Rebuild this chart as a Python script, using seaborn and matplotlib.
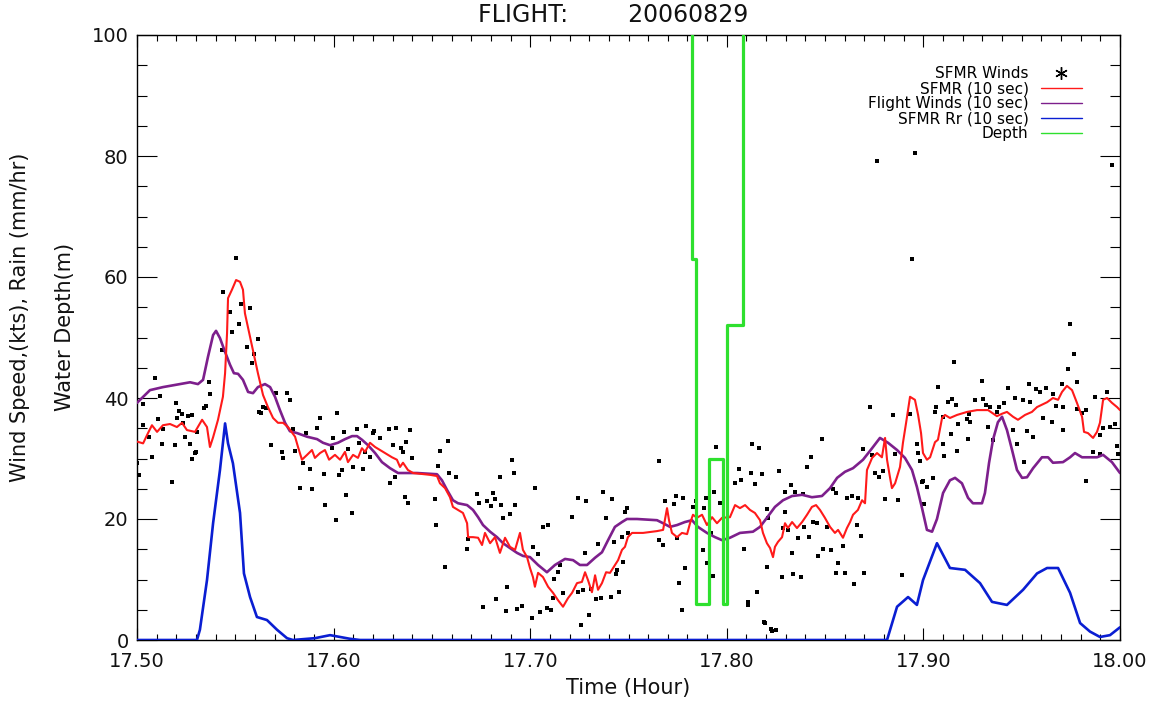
import matplotlib
matplotlib.use("Agg")
import matplotlib.pyplot as plt
import seaborn as sns
from matplotlib.lines import Line2D
from matplotlib.ticker import MultipleLocator, FormatStrFormatter

# ---------------- data ----------------
sfmr_t = [17.5000, 17.5031, 17.5056, 17.5076, 17.5102, 17.5132, 17.5168, 17.5203, 17.5229, 17.5254,
          17.5295, 17.5331, 17.5356, 17.5371, 17.5387, 17.5412, 17.5437, 17.5448, 17.5458, 17.5463,
          17.5483, 17.5504, 17.5524, 17.5539, 17.5549, 17.5565, 17.5590, 17.5615, 17.5641, 17.5666,
          17.5692, 17.5717, 17.5743, 17.5768, 17.5804, 17.5819, 17.5839, 17.5865, 17.5890, 17.5905,
          17.5931, 17.5956, 17.5977, 17.6007, 17.6033, 17.6058, 17.6073, 17.6099, 17.6124, 17.6144,
          17.6160, 17.6185, 17.6211, 17.6236, 17.6261, 17.6297, 17.6322, 17.6338, 17.6353, 17.6378,
          17.6404, 17.6490, 17.6526, 17.6541, 17.6567, 17.6592, 17.6607, 17.6633, 17.6658, 17.6679,
          17.6684, 17.6709, 17.6735, 17.6755, 17.6770, 17.6796, 17.6821, 17.6846, 17.6872, 17.6897,
          17.6923, 17.6948, 17.6963, 17.6984, 17.6999, 17.7014, 17.7024, 17.7040, 17.7065, 17.7091,
          17.7116, 17.7141, 17.7167, 17.7192, 17.7213, 17.7238, 17.7263, 17.7279, 17.7294, 17.7314,
          17.7330, 17.7345, 17.7365, 17.7386, 17.7406, 17.7431, 17.7447, 17.7467, 17.7482, 17.7497,
          17.7518, 17.7574, 17.7645, 17.7676, 17.7696, 17.7706, 17.7721, 17.7747, 17.7772, 17.7798,
          17.7813, 17.7828, 17.7848, 17.7874, 17.7899, 17.7925, 17.7950, 17.7976, 17.8016, 17.8042,
          17.8067, 17.8093, 17.8118, 17.8143, 17.8169, 17.8184, 17.8204, 17.8220, 17.8235, 17.8245,
          17.8260, 17.8281, 17.8296, 17.8311, 17.8332, 17.8357, 17.8383, 17.8408, 17.8433, 17.8454,
          17.8474, 17.8499, 17.8525, 17.8550, 17.8566, 17.8591, 17.8611, 17.8627, 17.8642, 17.8667,
          17.8688, 17.8703, 17.8713, 17.8739, 17.8764, 17.8789, 17.8805, 17.8815, 17.8830, 17.8840,
          17.8856, 17.8881, 17.8896, 17.8912, 17.8932, 17.8957, 17.8973, 17.8988, 17.8998, 17.9018,
          17.9034, 17.9059, 17.9074, 17.9095, 17.9110, 17.9135, 17.9171, 17.9222, 17.9273, 17.9329,
          17.9374, 17.9400, 17.9425, 17.9456, 17.9481, 17.9517, 17.9552, 17.9578, 17.9629, 17.9659,
          17.9685, 17.9705, 17.9730, 17.9756, 17.9781, 17.9807, 17.9817, 17.9837, 17.9863, 17.9883,
          17.9898, 17.9914, 17.9934, 17.9959, 17.9985, 18.0000]
sfmr_v = [32.8, 32.5, 34.2, 35.5, 34.4, 35.5, 35.7, 35.2, 35.9, 34.7,
          34.4, 36.4, 35.2, 31.9, 33.5, 36.4, 40.2, 44.1, 50.7, 56.5,
          57.9, 59.5, 59.2, 57.9, 54.0, 51.6, 47.9, 44.1, 40.5, 38.5,
          36.7, 35.9, 35.9, 35.2, 33.6, 31.9, 29.8, 30.6, 31.4, 30.1,
          30.9, 31.4, 29.8, 30.6, 29.8, 31.1, 29.4, 30.6, 30.1, 31.7,
          31.1, 32.6, 31.9, 31.4, 30.9, 30.2, 29.8, 28.6, 29.3, 28.1,
          27.6, 27.3, 27.1, 25.9, 25.1, 23.6, 22.0, 21.5, 21.0, 19.3,
          17.0, 17.0, 16.9, 15.7, 17.7, 16.0, 17.0, 14.4, 16.9, 15.4,
          14.9, 17.7, 14.9, 13.7, 11.9, 10.4, 8.8, 11.1, 10.4, 8.8,
          7.8, 6.6, 5.5, 6.9, 7.8, 9.4, 9.6, 11.2, 9.9, 7.9,
          10.7, 8.3, 9.4, 11.2, 11.1, 12.4, 13.2, 14.9, 15.4, 17.0,
          17.7, 17.7, 18.0, 18.2, 21.8, 19.8, 17.7, 17.0, 17.7, 17.5,
          19.3, 20.7, 20.2, 20.7, 19.0, 20.3, 19.3, 20.2, 20.3, 22.3,
          21.8, 22.3, 21.5, 21.0, 19.8, 17.7, 16.0, 15.2, 13.7, 15.4,
          16.2, 17.0, 19.3, 18.5, 19.5, 18.5, 19.5, 20.7, 22.0, 22.3,
          21.5, 20.2, 18.7, 17.7, 18.2, 16.9, 18.5, 19.5, 20.7, 21.5,
          23.1, 22.6, 28.1, 30.1, 30.9, 30.2, 33.4, 29.8, 26.9, 25.1,
          25.9, 28.6, 32.6, 35.9, 40.2, 39.7, 37.2, 34.2, 30.9, 29.8,
          30.2, 32.7, 33.1, 36.7, 37.2, 36.7, 37.2, 37.7, 38.0, 38.0,
          37.0, 37.4, 37.7, 36.9, 36.4, 37.2, 37.7, 38.5, 39.3, 40.0,
          39.7, 41.0, 42.0, 41.3, 39.2, 36.9, 34.4, 34.2, 33.4, 34.4,
          35.9, 39.7, 40.0, 39.2, 38.5, 38.0]

flight_t = [17.5000, 17.5066, 17.5132, 17.5219, 17.5270, 17.5310, 17.5336, 17.5361, 17.5387, 17.5402,
            17.5422, 17.5448, 17.5473, 17.5493, 17.5514, 17.5539, 17.5565, 17.5590, 17.5615, 17.5651,
            17.5677, 17.5702, 17.5727, 17.5753, 17.5778, 17.5814, 17.5865, 17.5916, 17.5946, 17.5982,
            17.6022, 17.6058, 17.6094, 17.6119, 17.6144, 17.6175, 17.6211, 17.6246, 17.6287, 17.6328,
            17.6424, 17.6526, 17.6551, 17.6577, 17.6607, 17.6633, 17.6679, 17.6709, 17.6735, 17.6760,
            17.6796, 17.6831, 17.6862, 17.6897, 17.6933, 17.6963, 17.6999, 17.7040, 17.7085, 17.7126,
            17.7177, 17.7218, 17.7253, 17.7289, 17.7330, 17.7365, 17.7396, 17.7431, 17.7467, 17.7492,
            17.7543, 17.7645, 17.7676, 17.7711, 17.7747, 17.7787, 17.7823, 17.7853, 17.7899, 17.7940,
            17.7976, 17.8016, 17.8067, 17.8133, 17.8169, 17.8204, 17.8245, 17.8286, 17.8332, 17.8383,
            17.8433, 17.8484, 17.8525, 17.8561, 17.8601, 17.8642, 17.8693, 17.8739, 17.8779, 17.8820,
            17.8866, 17.8906, 17.8942, 17.8967, 17.8993, 17.9018, 17.9044, 17.9069, 17.9100, 17.9135,
            17.9161, 17.9196, 17.9227, 17.9252, 17.9298, 17.9313, 17.9334, 17.9354, 17.9379, 17.9400,
            17.9425, 17.9451, 17.9476, 17.9502, 17.9527, 17.9558, 17.9603, 17.9634, 17.9659, 17.9710,
            17.9746, 17.9771, 17.9807, 17.9883, 17.9914, 17.9959, 18.0000]
flight_v = [39.2, 41.3, 41.8, 42.3, 42.6, 42.3, 43.0, 46.8, 50.4, 51.1,
            49.9, 47.6, 45.5, 44.1, 44.0, 43.0, 41.0, 40.8, 41.8, 42.3,
            41.8, 40.2, 38.0, 35.9, 34.5, 34.2, 33.6, 33.2, 32.6, 32.2,
            32.6, 33.2, 33.7, 33.7, 33.1, 32.2, 30.9, 29.4, 28.4, 27.6,
            27.6, 27.4, 26.4, 24.8, 23.1, 22.6, 22.3, 21.5, 20.3, 19.0,
            17.9, 17.0, 16.0, 15.2, 14.4, 13.9, 13.7, 12.4, 11.2, 12.4,
            13.4, 13.2, 12.4, 12.4, 13.6, 14.5, 16.5, 18.7, 19.5, 20.0,
            20.0, 19.8, 19.3, 18.7, 19.0, 19.5, 19.8, 18.7, 17.7, 17.0,
            16.5, 16.9, 17.7, 17.9, 18.7, 20.2, 22.0, 23.1, 23.8, 24.0,
            23.6, 23.8, 25.1, 26.8, 27.8, 28.4, 29.8, 31.7, 33.4, 32.6,
            31.4, 30.1, 28.1, 25.3, 21.8, 18.2, 17.9, 20.0, 24.3, 26.4,
            26.8, 25.9, 23.5, 22.6, 22.6, 24.3, 29.3, 33.1, 36.0, 36.9,
            34.7, 31.4, 28.1, 26.8, 26.9, 28.4, 30.2, 30.2, 29.3, 29.4,
            30.2, 30.9, 30.2, 30.2, 30.6, 29.4, 27.6]

rain_t = [17.5000, 17.5305, 17.5320, 17.5356, 17.5387, 17.5422, 17.5448, 17.5463, 17.5488, 17.5524,
          17.5544, 17.5575, 17.5610, 17.5661, 17.5712, 17.5763, 17.5793, 17.5905, 17.5982, 17.6033,
          17.6083, 17.6134, 17.8815, 17.8866, 17.8922, 17.8967, 17.8998, 17.9069, 17.9135, 17.9212,
          17.9288, 17.9349, 17.9425, 17.9507, 17.9578, 17.9629, 17.9685, 17.9746, 17.9797, 17.9847,
          17.9898, 17.9949, 18.0000]
rain_v = [0.0, 0.0, 1.7, 9.9, 19.3, 28.1, 35.8, 32.5, 29.2, 21.0,
          11.0, 7.1, 3.8, 3.3, 1.7, 0.3, 0.0, 0.3, 0.8, 0.5,
          0.2, 0.0, 0.0, 5.5, 7.1, 5.8, 9.9, 16.0, 11.9, 11.6,
          9.4, 6.3, 5.8, 8.3, 11.0, 11.9, 11.9, 7.8, 2.8, 1.4,
          0.5, 0.8, 2.1]

# water depth (m); values above 100 are off scale
depth_t = [17.5000, 17.7821, 17.7843, 17.7909, 17.7979, 17.8001, 17.8082, 18.0000]
depth_v = [200.0, 63.0, 6.0, 30.0, 6.0, 52.0, 200.0, 200.0]

winds_t = [17.8764, 17.8957, 17.8940, 17.9960, 17.9746,
           17.9766, 17.9156, 17.9736, 17.9298, 17.9074, 17.9537, 17.9430, 17.9573, 17.9624, 17.9705,
           17.9781, 17.9593, 17.9660, 17.9934, 17.9873, 17.9146, 17.9125, 17.9166, 17.9262, 17.9303,
           17.9466, 17.9507, 17.9318, 17.9339, 17.9385, 17.9410, 17.9542, 17.9064, 17.9059, 17.9100,
           17.9232, 17.9374, 17.9608, 17.9675, 17.9710, 17.9781, 17.9827, 17.9176, 17.9222, 17.9237,
           17.9456, 17.9527, 17.9329, 17.9654, 17.9710, 17.9807, 17.9913, 17.9949, 17.9975, 17.9898,
           17.9140, 17.9227, 17.9558, 17.9354, 17.9100, 17.9476, 17.9171, 17.9105, 17.9863, 17.9898,
           17.9985, 17.9990, 17.9512, 17.9049, 17.9827,
           17.8728, 17.8845, 17.8932, 17.8128, 17.8164, 17.8484, 17.8693, 17.8967, 17.8973, 17.8739,
           17.8856, 17.8428, 17.8983, 17.8062, 17.8266, 17.8408, 17.8123, 17.8179, 17.8754, 17.8794,
           17.8774, 17.8072, 17.8042, 17.8143, 17.8327, 17.8998, 17.8296, 17.8347, 17.8388, 17.8540,
           17.8556, 17.8805, 17.8871, 17.8611, 17.8637, 17.8667, 17.8204, 17.8296, 17.8210, 17.8286,
           17.8438, 17.8459, 17.8510, 17.8393, 17.8662, 17.8683, 17.8311, 17.8362, 17.8418, 17.8591,
           17.8088, 17.8332, 17.8464, 17.8489, 17.8530, 17.8566, 17.8204, 17.8556, 17.8601, 17.8698,
           17.8891, 17.8281, 17.8337, 17.8377, 17.8647, 17.8154, 17.8108, 17.8189, 17.8225, 17.8250,
           17.8993, 17.9018, 17.9003, 17.8108, 17.8194, 17.8230,
           17.7945, 17.7655, 17.7024, 17.7370, 17.7742, 17.7777, 17.7243, 17.7284, 17.7416, 17.7935,
           17.7894, 17.7686, 17.7731, 17.7843, 17.7965, 17.7492, 17.7482, 17.7213, 17.7386, 17.7828,
           17.7884, 17.7065, 17.7091, 17.7920, 17.7497, 17.7655, 17.7676, 17.7747, 17.7467, 17.7014,
           17.7345, 17.7426, 17.7279, 17.7040, 17.7879, 17.7472, 17.7899, 17.7152, 17.7141, 17.7441,
           17.7787, 17.7930, 17.7121, 17.7436, 17.7757, 17.7243, 17.7269, 17.7309, 17.7167, 17.7452,
           17.7411, 17.7335, 17.7360, 17.7116, 17.7085, 17.7106, 17.7050, 17.7009, 17.7299, 17.7772,
           17.7258,
           17.6017, 17.6053, 17.6119, 17.6165, 17.6200, 17.6206, 17.5997, 17.6282, 17.6317, 17.6389,
           17.6129, 17.6236, 17.6302, 17.6368, 17.6582, 17.6343, 17.6353, 17.6541, 17.5992, 17.6073,
           17.6160, 17.6185, 17.6399, 17.6907, 17.6099, 17.6150, 17.6043, 17.6531, 17.6027, 17.6312,
           17.6587, 17.6623, 17.6918, 17.6846, 17.6287, 17.6063, 17.6363, 17.6378, 17.6516, 17.6729,
           17.6740, 17.6780, 17.6811, 17.6821, 17.6801, 17.6852, 17.6923, 17.6094, 17.6862, 17.6897,
           17.6012, 17.6521, 17.6684, 17.6679, 17.6567, 17.6882, 17.6826, 17.6760, 17.6877, 17.6933,
           17.6958,
           17.5504, 17.5437, 17.5529, 17.5575, 17.5473, 17.5519, 17.5483, 17.5615, 17.5432, 17.5560,
           17.5585, 17.5595, 17.5092, 17.5366, 17.5371, 17.5117, 17.5030, 17.5198, 17.5351, 17.5214,
           17.5229, 17.5259, 17.5280, 17.5341, 17.5203, 17.5234, 17.5107, 17.5030, 17.5132, 17.5305,
           17.5244, 17.5061, 17.5127, 17.5193, 17.5270, 17.5295, 17.5300, 17.5076, 17.5280, 17.5010,
           17.5178, 17.5621, 17.5641, 17.5656, 17.5707, 17.5763, 17.5778, 17.5631, 17.5682, 17.5738,
           17.5743, 17.5804, 17.5793, 17.5860, 17.5931, 17.5916, 17.5844, 17.5880, 17.5951, 17.5829,
           17.5890, 17.5956, 17.5000]
winds_v = [79.2, 80.5, 63.0, 78.5, 52.2,
           47.3, 45.9, 44.8, 42.8, 41.8, 42.3, 41.7, 41.5, 41.7, 42.3,
           42.6, 41.0, 40.7, 41.0, 40.2, 39.8, 39.3, 38.8, 39.7, 39.8,
           40.0, 39.7, 38.8, 38.5, 38.5, 39.2, 39.3, 38.5, 37.7, 36.9,
           37.4, 37.7, 36.7, 38.7, 38.5, 38.2, 38.0, 35.7, 36.5, 36.0,
           34.7, 34.5, 35.2, 36.0, 34.7, 37.5, 35.0, 35.2, 35.7, 33.9,
           34.0, 33.2, 33.6, 33.1, 32.4, 32.4, 31.2, 30.4, 31.1, 30.7,
           32.1, 30.7, 29.4, 26.8, 26.3,
           38.5, 37.2, 37.4, 32.4, 31.7, 33.2, 31.6, 32.4, 30.9, 30.6,
           30.7, 30.2, 29.6, 28.3, 27.9, 28.6, 27.6, 27.4, 27.6, 27.9,
           26.9, 26.4, 25.9, 25.8, 25.6, 26.3, 24.5, 24.5, 24.1, 25.0,
           24.3, 23.3, 23.1, 23.5, 23.8, 23.5, 21.7, 21.2, 20.2, 18.5,
           19.5, 19.3, 18.7, 18.7, 19.0, 17.2, 18.2, 16.9, 17.0, 15.5,
           15.0, 14.4, 13.9, 15.0, 14.9, 12.7, 12.1, 11.1, 11.1, 11.1,
           10.7, 10.4, 10.9, 10.4, 9.3, 7.9, 6.3, 3.0, 1.8, 1.7,
           26.1, 25.3, 22.5, 5.8, 2.8, 1.5,
           31.9, 29.6, 25.1, 24.5, 23.8, 23.5, 23.5, 23.0, 23.3, 24.5,
           23.5, 23.0, 22.5, 23.0, 22.6, 21.8, 21.2, 20.3, 20.2, 22.0,
           21.8, 18.7, 19.0, 17.7, 17.7, 16.5, 15.7, 16.9, 17.0, 15.4,
           15.9, 16.2, 14.4, 14.2, 14.9, 12.9, 12.7, 12.4, 11.2, 11.6,
           11.9, 10.6, 10.1, 10.9, 9.4, 7.9, 8.3, 8.4, 7.8, 7.9,
           7.1, 6.8, 6.9, 6.9, 5.3, 5.0, 4.6, 3.6, 4.1, 5.0,
           2.5,
           37.5, 34.4, 34.9, 35.4, 34.2, 34.5, 33.4, 34.9, 35.0, 34.7,
           32.6, 33.4, 32.2, 32.7, 32.9, 31.7, 31.1, 31.2, 31.7, 31.6,
           31.1, 30.2, 30.1, 29.8, 28.6, 28.3, 28.1, 28.8, 27.3, 26.9,
           27.6, 26.9, 27.6, 26.9, 25.9, 24.0, 23.6, 22.6, 23.3, 24.1,
           22.6, 23.0, 24.3, 23.3, 22.1, 22.3, 22.3, 21.0, 20.2, 20.8,
           19.8, 19.0, 16.7, 15.0, 12.1, 8.8, 6.8, 5.5, 4.8, 5.1,
           5.6,
           63.1, 57.5, 55.5, 54.9, 54.2, 52.2, 50.9, 49.8, 47.9, 48.4,
           45.8, 47.3, 43.3, 42.6, 40.7, 40.3, 39.0, 39.2, 38.7, 37.9,
           37.4, 37.0, 37.2, 38.3, 36.7, 35.9, 36.5, 35.5, 34.9, 34.4,
           33.6, 33.6, 32.4, 32.2, 32.4, 30.9, 31.1, 30.2, 29.9, 27.3,
           26.1, 37.7, 38.5, 38.3, 40.8, 40.8, 39.7, 37.5, 32.2, 31.1,
           30.1, 31.2, 34.9, 34.2, 36.7, 35.0, 29.3, 28.3, 27.4, 25.1,
           25.0, 22.3, 29.2]

legend_labels = ["SFMR Winds", "SFMR (10 sec)", "Flight Winds (10 sec)",
                 "SFMR Rr (10 sec)", "Depth"]
title_text = "FLIGHT:        20060829"
xticks = [17.5, 17.6, 17.7, 17.8, 17.9, 18.0]

# ---------------- style ----------------
RED = "#ff1a1a"
PURPLE = "#7d1f8c"
BLUE = "#0a1ed2"
GREEN = "#2ee02e"

sns.set_style("ticks")
plt.rcParams["font.family"] = ["DejaVu Sans"]
plt.rcParams["text.color"] = "black"

W, H = 1154, 702
fig = plt.figure(figsize=(W / 100, H / 100), dpi=100)
ax = fig.add_axes([137 / W, 62 / H, 983 / W, 605 / H])

sns.scatterplot(x=winds_t, y=winds_v, marker="s", s=7, color="black",
                linewidth=0, ax=ax, zorder=2)
sns.lineplot(x=flight_t, y=flight_v, color=PURPLE, linewidth=1.9,
             estimator=None, ax=ax, zorder=3)
sns.lineplot(x=sfmr_t, y=sfmr_v, color=RED, linewidth=1.5,
             estimator=None, ax=ax, zorder=4)
sns.lineplot(x=rain_t, y=rain_v, color=BLUE, linewidth=1.9,
             estimator=None, ax=ax, zorder=5)
sns.lineplot(x=depth_t, y=depth_v, color=GREEN, linewidth=2.3,
             estimator=None, drawstyle="steps-post", ax=ax, zorder=6)

ax.set_xlim(17.5, 18.0)
ax.set_ylim(0, 100)
ax.set_xticks(xticks)
ax.xaxis.set_minor_locator(MultipleLocator(0.01))
ax.xaxis.set_major_formatter(FormatStrFormatter("%.2f"))
ax.yaxis.set_major_locator(MultipleLocator(20))
ax.yaxis.set_minor_locator(MultipleLocator(5))

ax.tick_params(which="both", direction="in", top=True, right=True,
               width=0.8, color="black", labelsize=14, labelcolor="#111111")
ax.tick_params(axis="x", which="major", length=8.6, pad=8.5)
ax.tick_params(axis="x", which="minor", length=4.3)
ax.tick_params(axis="y", which="major", length=14.4, pad=6)
ax.tick_params(axis="y", which="minor", length=7.4)
for sp in ax.spines.values():
    sp.set_linewidth(1.0)
    sp.set_color("black")

ax.set_xlabel("Time (Hour)", fontsize=15, labelpad=5, color="#111111")
ax.set_ylabel("")

fig.text(20 / W, 1 - 317 / H, "Wind Speed,(kts), Rain (mm/hr)", rotation=90,
         ha="center", va="center", fontsize=15, color="#111111")
fig.text(65 / W, 1 - 327 / H, "Water Depth(m)", rotation=90,
         ha="center", va="center", fontsize=15, color="#111111")
fig.text(613 / W, 1 - 15 / H, title_text, ha="center", va="center",
         fontsize=17, color="#111111")

handles = [
    Line2D([], [], marker=(6, 2, 0), linestyle="none", color="black",
           markersize=9, markeredgewidth=1.0),
    Line2D([], [], color=RED, linewidth=1.0),
    Line2D([], [], color=PURPLE, linewidth=1.0),
    Line2D([], [], color=BLUE, linewidth=1.0),
    Line2D([], [], color=GREEN, linewidth=1.0),
]
leg = ax.legend(handles, legend_labels, loc="upper right",
                bbox_to_anchor=((1082 - 137) / 983, (640 - 66) / 605),
                frameon=False, markerfirst=False, fontsize=11,
                handlelength=2.7, handletextpad=0.8, labelspacing=0.0,
                borderpad=0, borderaxespad=0)

fig.savefig("out.png", dpi=100)
